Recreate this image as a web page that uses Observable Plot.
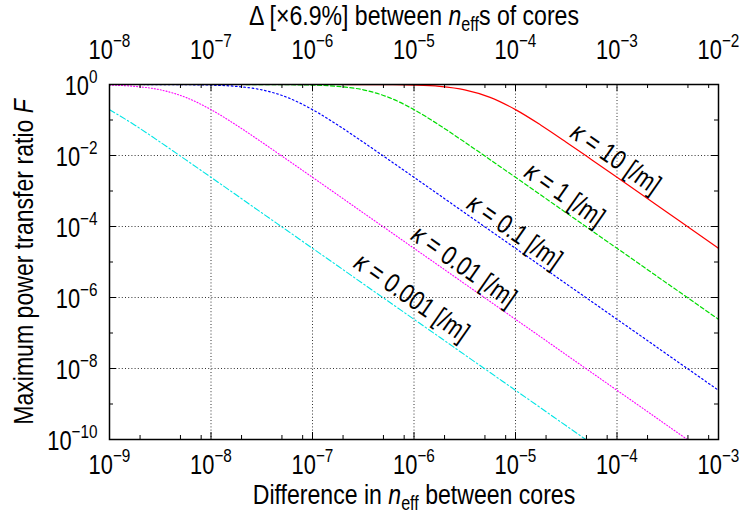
<!DOCTYPE html>
<html>
<head>
<meta charset="utf-8">
<script src="https://cdn.jsdelivr.net/npm/d3@7"></script>
<script src="https://cdn.jsdelivr.net/npm/@observablehq/plot@0.6"></script>
<style>
  html, body { margin: 0; padding: 0; background: #fff; }
  svg { display: block; }
</style>
</head>
<body>
<div id="chart"></div>
<script>
// ---- data ----
// difference in n_eff between cores (x), quarter-decade samples
const dn = [1e-9, 1.78e-9, 3.16e-9, 5.62e-9,
            1e-8, 1.78e-8, 3.16e-8, 5.62e-8,
            1e-7, 1.78e-7, 3.16e-7, 5.62e-7,
            1e-6, 1.78e-6, 3.16e-6, 5.62e-6,
            1e-5, 1.78e-5, 3.16e-5, 5.62e-5,
            1e-4, 1.78e-4, 3.16e-4, 5.62e-4,
            1e-3];

// maximum power transfer ratio F for each coupling coefficient kappa
const F_k10 = [1.0, 1.0, 1.0, 1.0, 1.0, 1.0, 1.0, 1.0, 1.0, 0.999,
               0.996, 0.987, 0.961, 0.885, 0.709, 0.435, 0.196, 0.0715, 0.0238, 7.64e-3,
               2.43e-3, 7.69e-4, 2.43e-4, 7.70e-5, 2.43e-5];
const F_k1 = [1.0, 1.0, 1.0, 1.0, 1.0, 0.999, 0.996, 0.987, 0.961, 0.885,
              0.709, 0.435, 0.196, 0.0715, 0.0238, 7.64e-3, 2.43e-3, 7.69e-4, 2.43e-4, 7.70e-5,
              2.43e-5, 7.70e-6, 2.43e-6, 7.70e-7, 2.43e-7];
const F_k01 = [1.0, 0.999, 0.996, 0.987, 0.961, 0.885, 0.709, 0.435, 0.196, 0.0715,
               0.0238, 7.64e-3, 2.43e-3, 7.69e-4, 2.43e-4, 7.70e-5, 2.43e-5, 7.70e-6, 2.43e-6, 7.70e-7,
               2.43e-7, 7.70e-8, 2.43e-8, 7.70e-9, 2.43e-9];
const F_k001 = [0.961, 0.885, 0.709, 0.435, 0.196, 0.0715, 0.0238, 7.64e-3, 2.43e-3, 7.69e-4,
                2.43e-4, 7.70e-5, 2.43e-5, 7.70e-6, 2.43e-6, 7.70e-7, 2.43e-7, 7.70e-8, 2.43e-8, 7.70e-9,
                2.43e-9, 7.70e-10, 2.43e-10, 7.70e-11, 2.43e-11];
const F_k0001 = [0.196, 0.0715, 0.0238, 7.64e-3, 2.43e-3, 7.69e-4, 2.43e-4, 7.70e-5, 2.43e-5, 7.70e-6,
                 2.43e-6, 7.70e-7, 2.43e-7, 7.70e-8, 2.43e-8, 7.70e-9, 2.43e-9, 7.70e-10, 2.43e-10, 7.70e-11];

const kappaLabels = ["*κ* = 10 [/m]", "*κ* = 1 [/m]", "*κ* = 0.1 [/m]", "*κ* = 0.01 [/m]", "*κ* = 0.001 [/m]"];
// anchor of each in-plot label, in data units
const labelDn = [9.7e-5, 3.05e-5, 9.8e-6, 3.1e-6, 9.5e-7];
const labelF  = [8.2e-3, 7.9e-4, 7.2e-5, 7.5e-6, 1.0e-6];

// ticks
const xMajor = [1e-9, 1e-8, 1e-7, 1e-6, 1e-5, 1e-4, 1e-3];
const xExpBottom = ["−9", "−8", "−7", "−6", "−5", "−4", "−3"];
const xExpTop = ["−8", "−7", "−6", "−5", "−4", "−3", "−2"];
const xMinor = [2e-9, 5e-9, 8e-9, 2e-8, 5e-8, 8e-8, 2e-7, 5e-7, 8e-7,
                2e-6, 5e-6, 8e-6, 2e-5, 5e-5, 8e-5, 2e-4, 5e-4, 8e-4];
const xGrid = [1e-8, 1e-7, 1e-6, 1e-5, 1e-4];
const yMajor = [1, 1e-2, 1e-4, 1e-6, 1e-8, 1e-10];
const yExp = ["0", "−2", "−4", "−6", "−8", "−10"];
const yMinor = [1e-1, 1e-3, 1e-5, 1e-7, 1e-9];
const yGrid = [1e-2, 1e-4, 1e-6, 1e-8];

const topTitle = "Δ [×6.9%] between *n*_{eff}s of cores";
const xTitle = "Difference in *n*_{eff} between cores";
const yTitle = "Maximum power transfer ratio *F*";

// ---- layout / styles ----
const W = 741, H = 515, mL = 109, mR = 23, mT = 84, mB = 76;
const frameW = W - mL - mR, frameH = H - mT - mB;
const NARROW = 0.81;
const TICK_FS = 27, TITLE_FS = 28.5, LABEL_FS = 27;
const series = [
  {F: F_k10,   color: "#ff0000", dash: null, w: 1.2},
  {F: F_k1,    color: "#00dd00", dash: "4,2.5", w: 1.2},
  {F: F_k01,   color: "#0000ff", dash: "1.6,2.6", w: 1.2},
  {F: F_k001,  color: "#ff00ff", dash: "1,2", w: 1.1},
  {F: F_k0001, color: "#00e5e5", dash: "6,2.5,1.5,2.5", w: 1.1}
];

const tickStyle = {stroke: "#000", strokeWidth: 1};
const marks = [
  Plot.ruleX(xGrid, {stroke: "#333", strokeWidth: 1, strokeDasharray: "1,2.2"}),
  Plot.ruleY(yGrid, {stroke: "#333", strokeWidth: 1, strokeDasharray: "1,2.2"}),
  ...series.map(s => Plot.line(s.F.map((f, i) => [dn[i], f]), {
    x: d => d[0], y: d => d[1], stroke: s.color, strokeWidth: s.w,
    strokeDasharray: s.dash, curve: "monotone-x", clip: true
  })),
  Plot.frame({stroke: "#000", strokeWidth: 1.5}),
  Plot.ruleX(xMajor, {...tickStyle, insetTop: frameH - 7}),
  Plot.ruleX(xMajor, {...tickStyle, insetBottom: frameH - 7}),
  Plot.ruleX(xMinor, {...tickStyle, insetTop: frameH - 4}),
  Plot.ruleX(xMinor, {...tickStyle, insetBottom: frameH - 4}),
  Plot.ruleY(yMajor, {...tickStyle, insetRight: frameW - 7}),
  Plot.ruleY(yMajor, {...tickStyle, insetLeft: frameW - 7}),
  Plot.ruleY(yMinor, {...tickStyle, insetRight: frameW - 4}),
  Plot.ruleY(yMinor, {...tickStyle, insetLeft: frameW - 4}),
  // tick labels
  Plot.text(xMajor, {x: d => d, frameAnchor: "bottom", dy: 34, lineAnchor: "bottom", textAnchor: "middle",
    text: (d, i) => "10^{" + xExpBottom[i] + "}", fontSize: TICK_FS, fill: "#000"}),
  Plot.text(xMajor, {x: d => d, frameAnchor: "top", dy: -26, lineAnchor: "bottom", textAnchor: "middle",
    text: (d, i) => "10^{" + xExpTop[i] + "}", fontSize: TICK_FS, fill: "#000"}),
  Plot.text(yMajor, {y: d => d, frameAnchor: "left", dx: -12, dy: 10, textAnchor: "end",
    lineAnchor: "bottom", text: (d, i) => "10^{" + yExp[i] + "}", fontSize: TICK_FS, fill: "#000"}),
  // titles
  Plot.text([topTitle], {frameAnchor: "top", dy: 24 - mT, lineAnchor: "bottom", textAnchor: "middle",
    text: d => d, fontSize: TITLE_FS, fill: "#000"}),
  Plot.text([xTitle], {frameAnchor: "bottom", dy: 503 - (H - mB), lineAnchor: "bottom", textAnchor: "middle",
    text: d => d, fontSize: TITLE_FS, fill: "#000"}),
  Plot.text([yTitle], {frameAnchor: "left", dx: 32 - mL, rotate: -90, lineAnchor: "bottom", textAnchor: "middle",
    text: d => d, fontSize: TITLE_FS, fill: "#000"}),
  // curve labels
  Plot.text(kappaLabels, {x: (d, i) => labelDn[i], y: (d, i) => labelF[i], text: d => d,
    rotate: 35, fontSize: LABEL_FS, textAnchor: "middle", lineAnchor: "middle", fill: "#000"})
];

const svg = Plot.plot({
  width: W, height: H,
  marginLeft: mL, marginRight: mR, marginTop: mT, marginBottom: mB,
  x: {type: "log", domain: [1e-9, 1e-3], axis: null},
  y: {type: "log", domain: [1e-10, 1], axis: null},
  style: {fontFamily: "'Liberation Sans', Arial, Helvetica, sans-serif", background: "#fff", color: "#000"},
  marks
});

// rich text: ^{sup}, _{sub}, *italic*; and gnuplot-like narrow glyphs
const NS = "http://www.w3.org/2000/svg";
function richify(t) {
  const s = t.textContent;
  if (!/[\^_*]/.test(s)) return;
  const g = t.closest("[font-size]");
  const base = g ? parseFloat(g.getAttribute("font-size")) : 24;
  const re = /\^\{([^}]*)\}|_\{([^}]*)\}|\*([^*]*)\*|([^^_*]+)/g;
  t.textContent = "";
  let cur = 0, m;
  while ((m = re.exec(s))) {
    const ts = document.createElementNS(NS, "tspan");
    let target = 0;
    if (m[1] != null) { ts.textContent = m[1]; ts.setAttribute("font-size", (base * 0.7).toFixed(1)); target = -0.42 * base; }
    else if (m[2] != null) { ts.textContent = m[2]; ts.setAttribute("font-size", (base * 0.7).toFixed(1)); target = 0.22 * base; }
    else if (m[3] != null) { ts.textContent = m[3]; ts.setAttribute("font-style", "italic"); }
    else { ts.textContent = m[4]; }
    if (target !== cur) { ts.setAttribute("dy", (target - cur).toFixed(2)); cur = target; }
    t.appendChild(ts);
  }
}
svg.querySelectorAll("text").forEach(t => {
  richify(t);
  const tr = t.getAttribute("transform");
  if (tr) t.setAttribute("transform", tr + ` scale(${NARROW},1)`);
});

document.getElementById("chart").appendChild(svg);
</script>
</body>
</html>
